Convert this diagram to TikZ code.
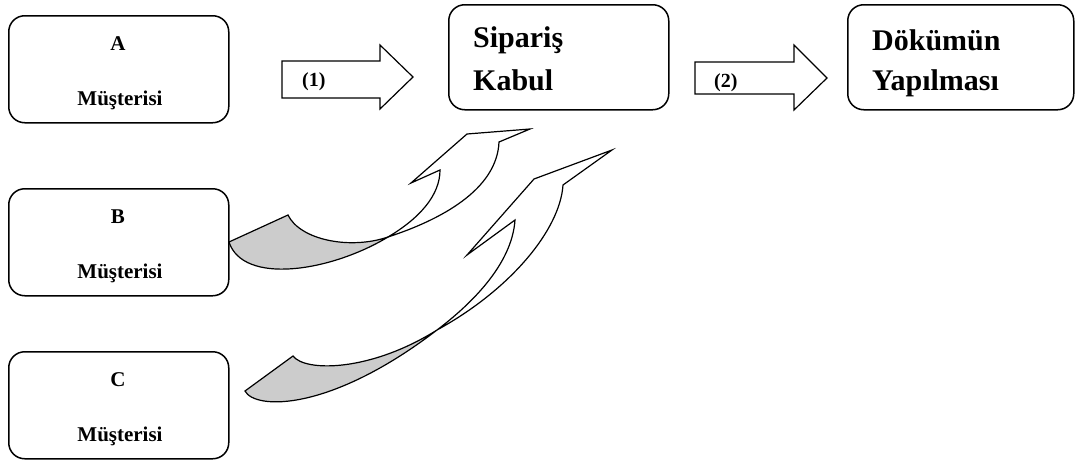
\documentclass[tikz,border=0pt]{standalone}
\usepackage{fontspec}
\setmainfont{Liberation Serif}
\usepackage{tikz}
\usetikzlibrary{positioning}
\definecolor{kgri}{RGB}{204,204,204}
\tikzset{>=latex}
\tikzset{kutu/.style={draw, rounded corners=16pt, line width=1.5pt, minimum height=107pt, anchor=north west}}
\tikzset{blok/.style={draw, line width=1.2pt, fill=white, line join=miter}}
\tikzset{kivrik/.style={draw, line width=1.2pt}}
\tikzset{kucuk/.style={font=\bfseries\fontsize{21}{25}\selectfont, inner sep=0pt, anchor=base}}
\tikzset{buyuk/.style={font=\bfseries\fontsize{30}{36}\selectfont, inner sep=0pt, anchor=base west}}
\tikzset{sayi/.style={font=\bfseries\fontsize{20}{24}\selectfont, inner sep=0pt, anchor=base west}}

\begin{document}
\begin{tikzpicture}[x=1pt, y=-1pt]
  \useasboundingbox (0,0) rectangle (1076,463);
  % musteri kutulari
  \foreach \m/\yy in {A/15, B/188, C/351}{
    \node[kutu, minimum width=220pt] (kutu\m) at (8,\yy) {};
    \node[kucuk] (harf\m) at (118,\yy+35) {\m};
    \node[kucuk] (must\m) at (120,\yy+90) {Müşterisi};
  }
  \node[kutu, minimum width=220pt, minimum height=105pt] (siparis) at (448,4) {};
  \node[buyuk] (sip1) at (473,47) {Sipariş};
  \node[buyuk] (sip2) at (473,90) {Kabul};
  \node[kutu, minimum width=226pt, minimum height=105pt] (dokum) at (847,4) {};
  \node[buyuk] (dok1) at (872,50) {Dökümün};
  \node[buyuk] (dok2) at (872,90) {Yapılması};
  % blok oklar
  \draw[blok] (282,61) -- (380,61) -- (380,45) -- (413,77) -- (380,109) -- (380,98) -- (282,98) -- cycle;
  \node[sayi] (bir) at (302,86) {(1)};
  \draw[blok] (695,62) -- (794,62) -- (794,45) -- (827,78) -- (794,110) -- (794,94) -- (695,94) -- cycle;
  \node[sayi] (iki) at (714,87) {(2)};
  % kivrik oklar, B musterisi
  \filldraw[kivrik, fill=kgri] (229,242) -- (288,215) .. controls (300,240) and (350,250) .. (388,237)
    .. controls (330,272) and (243,285) .. cycle;
  \filldraw[kivrik, fill=white] (388,237) .. controls (420,218) and (440,195) .. (440,170)
    -- (411,183) -- (467,134) -- (530,129) -- (499,142)
    .. controls (497,190) and (440,220) .. cycle;
  % kivrik oklar, C musterisi
  \filldraw[kivrik, fill=kgri] (245,391) -- (293,356) .. controls (305,372) and (370,372) .. (437,330)
    .. controls (330,412) and (255,410) .. cycle;
  \filldraw[kivrik, fill=white] (437,330) .. controls (470,305) and (512,265) .. (515,220)
    -- (467,255) -- (534,179) -- (612,150) -- (563,185)
    .. controls (560,230) and (510,290) .. cycle;
\end{tikzpicture}
\end{document}
